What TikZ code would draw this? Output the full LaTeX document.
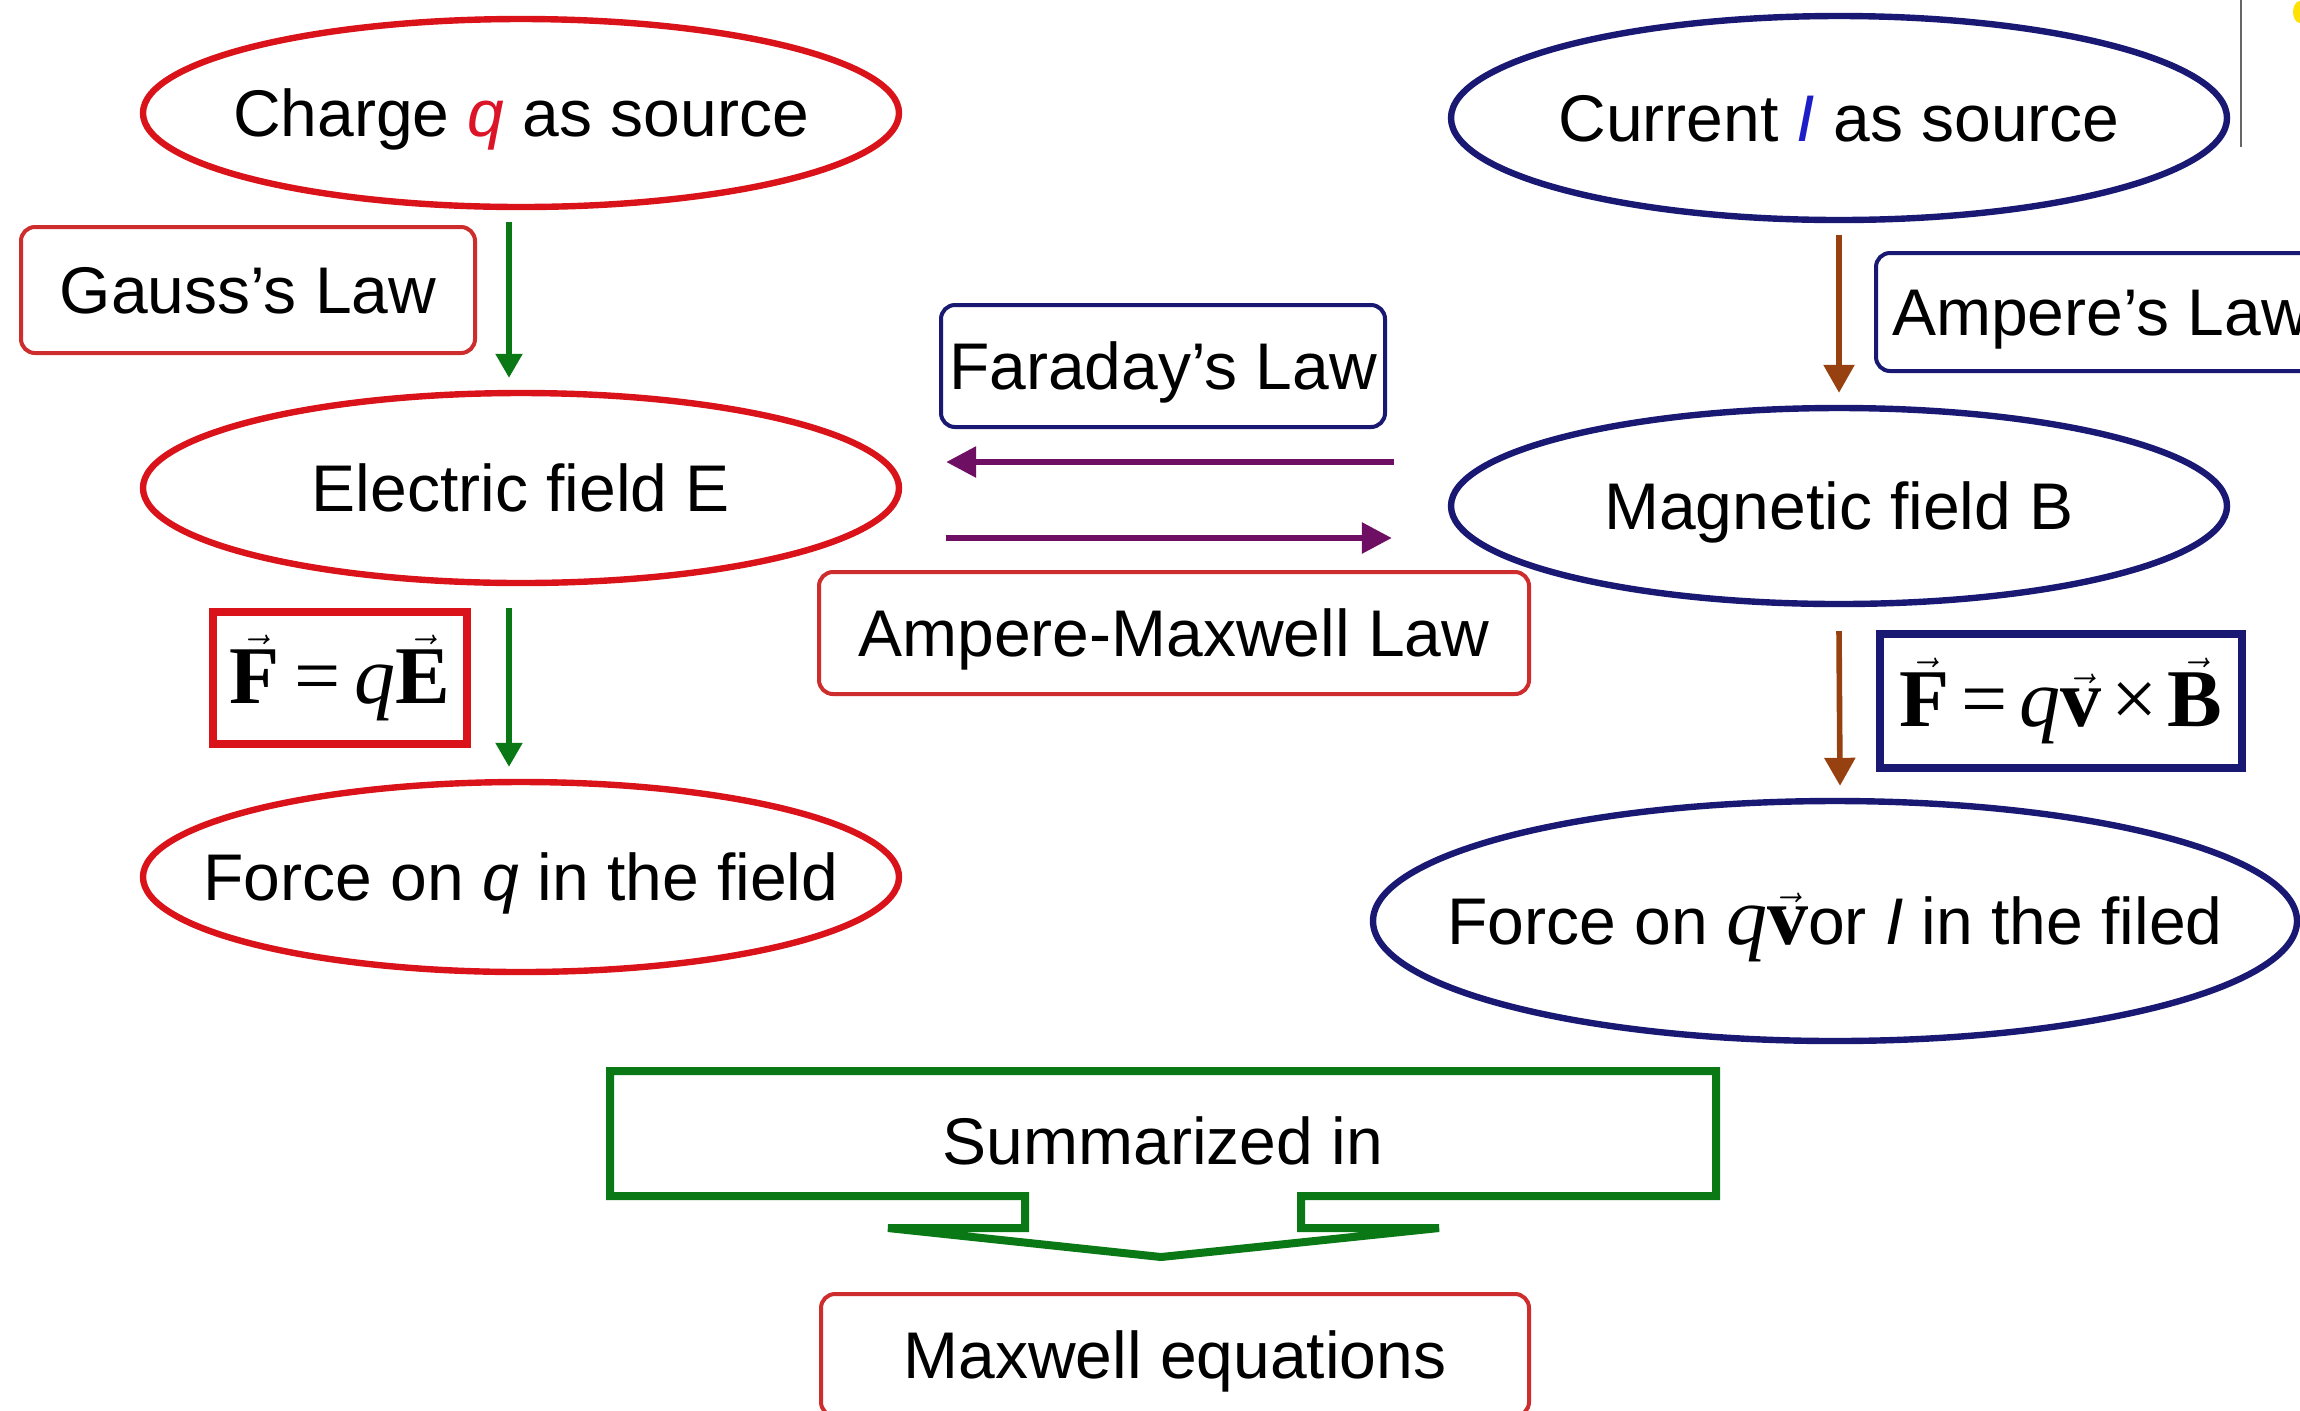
\documentclass[tikz,border=0pt]{standalone}
\usepackage[no-math]{fontspec}
\setmainfont{Liberation Sans}
\newfontfamily\tnr{Liberation Serif}
\usetikzlibrary{shapes.geometric,arrows.meta,calc}
\definecolor{ered}{RGB}{218,18,26}
\definecolor{bred}{RGB}{205,45,45}
\definecolor{navy}{RGB}{25,25,115}
\definecolor{ggreen}{RGB}{10,120,20}
\definecolor{brwn}{RGB}{150,65,15}
\definecolor{purp}{RGB}{110,15,100}
\definecolor{qred}{RGB}{220,20,40}
\definecolor{iblue}{RGB}{30,30,200}
\newcommand{\lblfont}{\fontsize{33pt}{40pt}\selectfont}
\newcommand{\eqfont}{\fontsize{41pt}{48pt}\selectfont\tnr}
\begin{document}
\begin{tikzpicture}[x=0.5pt,y=-0.5pt,
  ell/.style={ellipse, draw, line width=3.2pt, inner sep=0pt},
  lawbox/.style={draw, rounded corners=7pt, line width=2pt, font=\lblfont, inner sep=0pt, align=center, text height=23.6pt, text depth=0pt},
  eqbox/.style={draw, line width=4pt, font=\eqfont, inner sep=0pt},
  every label/.style={font=\lblfont, text=black, inner sep=0pt, text height=23.6pt, text depth=0pt},
  garrow/.style={draw=ggreen, line width=2.6pt, -{Triangle[length=12pt,width=13pt]}},
  barrow/.style={draw=brwn, line width=2.8pt, -{Triangle[length=14pt,width=15pt]}},
  parrow/.style={draw=purp, line width=3pt, -{Triangle[length=15pt,width=15pt]}}]
\useasboundingbox (0,0) rectangle (2300,1410);
\fill[white] (0,0) rectangle (2300,1410);

% left column
\node[ell, draw=ered, minimum width=378pt, minimum height=94pt,
  label={center:Charge \textcolor{qred}{\itshape q} as source}] (charge) at (521,113) {};
\node[ell, draw=ered, minimum width=378pt, minimum height=95pt,
  label={center:Electric field E}] (efield) at (521,488) {};
\node[ell, draw=ered, minimum width=378pt, minimum height=95pt,
  label={center:Force on \textit{q} in the field}] (forceq) at (521,877) {};
\node[lawbox, draw=bred, minimum width=227pt, minimum height=63pt] (gauss) at (248,290) {Gauss’s Law};
\node[eqbox, draw=ered, minimum width=127pt, minimum height=66pt] (fqe) at (340,678)
  {$\vec{\hbox{\eqfont\bfseries F}}$\hspace{7pt}=\hspace{7pt}\textit{q}$\vec{\hbox{\eqfont\bfseries E}}$};

\draw[garrow] ([xshift=-6pt,yshift=-6pt]charge.south) -- ([xshift=-6pt,yshift=6pt]efield.north);
\draw[garrow] ([xshift=-6pt,yshift=-11pt]efield.south) -- ([xshift=-6pt,yshift=6pt]forceq.north);

% right column
\node[ell, draw=navy, minimum width=388pt, minimum height=102pt,
  label={center:Current \textcolor{iblue}{\itshape I} as source}] (current) at (1839,118) {};
\node[ell, draw=navy, minimum width=388pt, minimum height=98pt,
  label={center:Magnetic field B}] (bfield) at (1839,506) {};
\node[ell, draw=navy, minimum width=462pt, minimum height=120pt,
  label={center:Force on {\eqfont\itshape q}$\vec{\hbox{\eqfont\bfseries v}}$or \textit{I} in the filed}] (forceqv) at (1835,921) {};
\node[lawbox, draw=navy, anchor=west, minimum height=59pt, inner xsep=8pt] (ampere) at (1874,312) {Ampere’s Law};
\node[eqbox, draw=navy, minimum width=181pt, minimum height=67pt] (fqvb) at (2061,701)
  {$\vec{\hbox{\eqfont\bfseries F}}$\hspace{6pt}=\hspace{6pt}\textit{q}$\vec{\hbox{\eqfont\bfseries v}}$\hspace{5pt}×\hspace{5pt}$\vec{\hbox{\eqfont\bfseries B}}$};

\draw[barrow] ([yshift=-6pt]current.south) -- ([yshift=6pt]bfield.north);
\draw[barrow] ([yshift=-12pt]bfield.south) -- ([xshift=2.5pt,yshift=6pt]forceqv.north);

% middle
\node[lawbox, draw=navy, minimum width=222pt, minimum height=61pt] (faraday) at (1163,366) {Faraday’s Law};
\node[lawbox, draw=bred, minimum width=355pt, minimum height=61pt] (ampmax) at (1174,633) {Ampere-Maxwell Law};
\draw[parrow] ($(bfield.west)+(-54,-44)$) -- ($(efield.east)+(44,-26)$);
\draw[parrow] ($(efield.east)+(44,50)$) -- ($(bfield.west)+(-56,32)$);

% summary callout
\node[font=\lblfont, inner sep=0pt, text height=23.6pt, text depth=0pt] (summ) at (1163,1141) {Summarized in};
\draw[ggreen, line width=4pt, line join=miter]
  (610,1071) -- (1716,1071) -- (1716,1196) -- (1301,1196) -- (1301,1228) -- (1439,1228)
  -- (1161,1257) -- (888,1228) -- (1025,1228) -- (1025,1196) -- (610,1196) -- cycle;
\node[lawbox, draw=bred, minimum width=354pt, minimum height=61pt] (maxwell) at (1175,1355) {Maxwell equations};

% slide edge artefacts
\draw[gray!80!black, line width=1.3pt] (2241,0) -- (2241,147);
\fill[yellow!85!orange] (2300,12) ellipse [x radius=7, y radius=11];
\end{tikzpicture}
\end{document}
